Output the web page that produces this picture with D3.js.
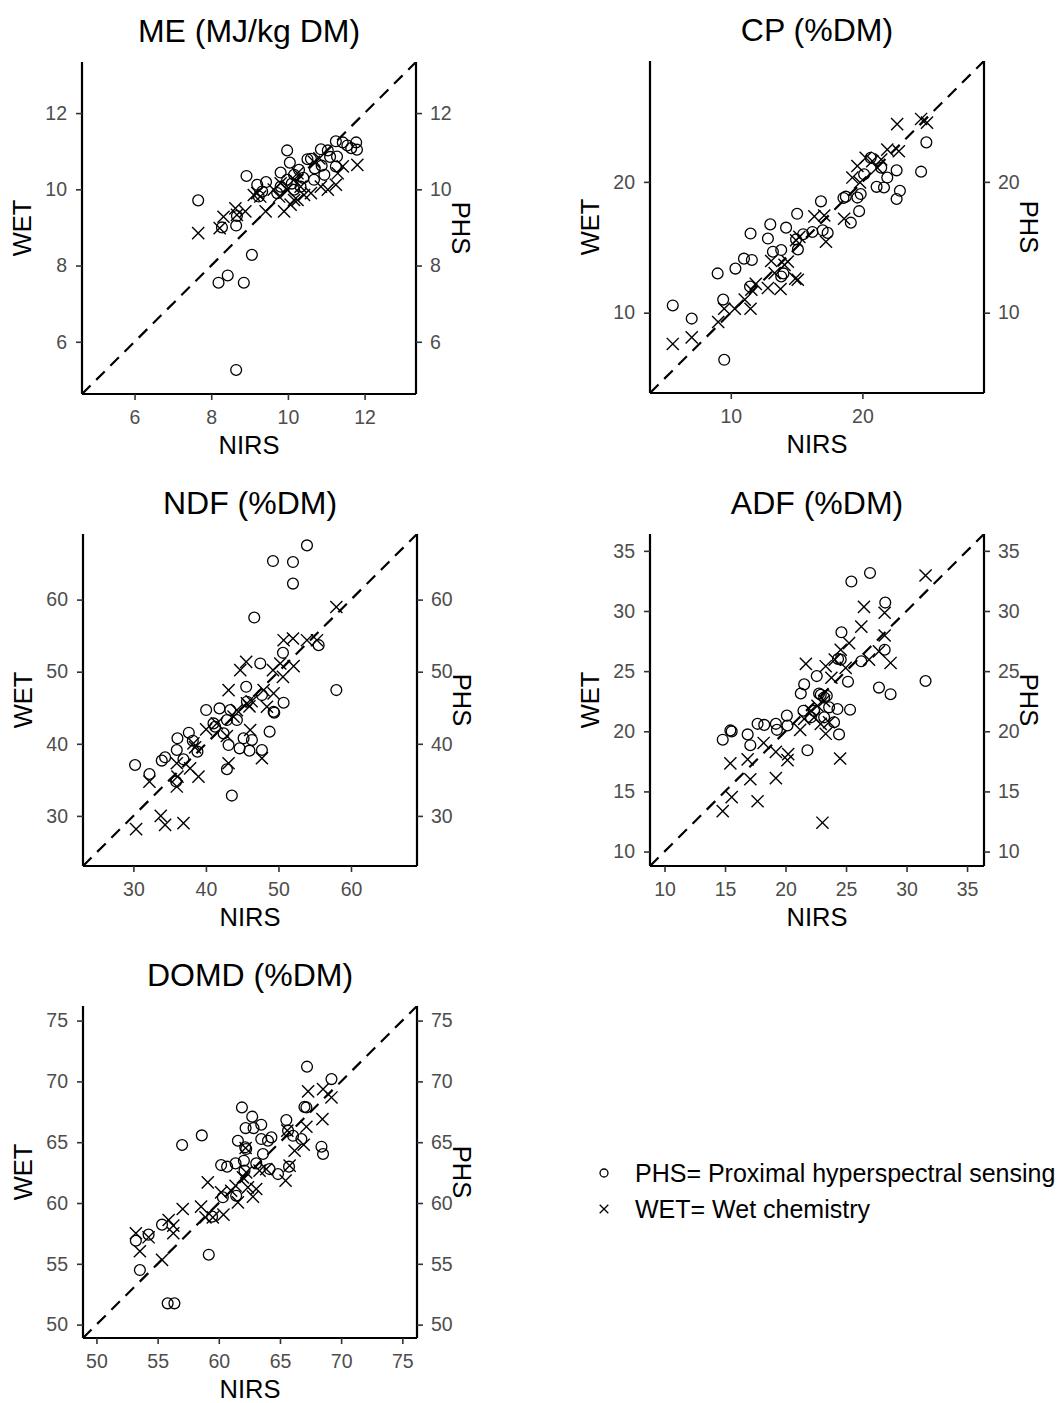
<!DOCTYPE html>
<html>
<head>
<meta charset="utf-8">
<script src="https://cdn.jsdelivr.net/npm/d3@7"></script>
<style>
  body { margin: 0; background: #fff; }
  svg { display: block; font-family: 'Liberation Sans', Arial, sans-serif; }
</style>
</head>
<body>
<div id="chart"></div>
<script>
// values: [NIRS, PHS] and [NIRS, WET]
var mePHS = [[7.66,9.71],[8.92,10.35],[9.98,11.02],[10.05,10.70],[8.67,9.30],[8.65,9.05],[8.28,9.00],[9.06,8.28],[8.43,7.74],[8.19,7.55],[8.85,7.55],[8.65,5.26],[9.20,10.12],[9.43,10.19],[9.81,10.44],[9.33,9.94],[10.51,10.79],[10.60,10.80],[10.86,11.05],[11.04,11.02],[11.25,11.26],[11.43,11.23],[11.78,11.23],[11.80,11.04],[11.65,11.08],[11.28,10.86],[10.88,10.62],[11.25,10.60],[10.95,10.38],[10.29,10.51],[10.16,10.38],[9.98,10.25],[9.81,10.07],[9.72,9.90],[10.16,9.99],[10.33,10.07],[9.24,9.81],[10.68,10.25],[10.40,10.30],[10.10,10.15],[11.10,10.85],[11.55,11.15],[10.70,10.55]]
var meWET = [[7.66,8.85],[8.22,8.98],[8.32,9.28],[8.63,9.50],[8.89,9.42],[9.11,9.85],[9.28,9.81],[9.42,9.42],[9.77,9.81],[9.90,9.42],[10.07,9.60],[10.25,9.72],[10.42,9.85],[10.60,9.90],[10.33,10.07],[10.16,10.25],[9.98,9.99],[10.86,10.07],[11.04,9.99],[11.25,10.12],[11.30,10.42],[11.43,10.60],[11.81,10.64],[10.82,10.81],[10.25,10.42],[9.81,10.16],[9.63,9.99],[10.68,10.72],[9.20,9.90],[8.67,9.33],[10.16,9.72]]

var cpPHS = [[5.59,10.55],[7.03,9.55],[9.50,6.40],[9.42,11.00],[9.00,13.00],[10.35,13.37],[11.00,14.13],[11.60,14.03],[11.50,16.05],[12.82,15.67],[13.00,16.75],[14.20,16.50],[15.04,17.56],[16.85,18.51],[13.20,14.66],[13.83,14.79],[14.96,15.60],[15.50,16.00],[15.10,14.84],[16.20,16.17],[16.98,16.30],[17.36,16.10],[11.46,12.00],[14.00,13.00],[13.83,12.77],[18.74,18.87],[19.12,16.88],[19.75,17.76],[19.62,18.80],[19.87,19.07],[20.13,20.58],[20.63,21.84],[21.08,19.62],[21.64,19.57],[21.89,20.33],[22.60,20.88],[22.85,19.32],[22.60,18.69],[24.46,20.78],[24.86,23.02],[18.56,18.77],[21.43,21.08]]
var cpWET = [[5.59,7.61],[7.03,8.11],[9.04,9.29],[9.50,10.30],[10.30,10.30],[11.06,11.00],[11.50,10.30],[11.56,11.76],[12.82,11.89],[13.78,11.81],[13.07,13.95],[13.33,13.02],[14.08,13.65],[14.33,13.90],[15.09,12.52],[14.96,15.54],[15.21,15.80],[16.35,17.36],[17.10,17.43],[17.23,15.42],[18.61,17.18],[19.24,20.33],[19.62,21.21],[19.82,19.95],[20.25,21.84],[20.75,21.59],[21.13,21.08],[21.89,22.47],[22.77,22.34],[22.64,24.41],[24.46,24.81],[24.91,24.53],[21.43,21.71],[11.90,12.20],[14.90,12.60]]

var ndfPHS = [[53.93,67.52],[49.24,65.35],[52.00,65.21],[52.00,62.22],[46.66,57.51],[50.62,52.62],[55.54,53.68],[47.49,51.14],[57.98,47.45],[50.71,45.70],[49.42,44.31],[48.78,41.68],[47.72,39.14],[46.34,40.53],[45.19,40.76],[44.64,39.37],[46.00,39.05],[43.57,32.82],[42.89,36.47],[45.55,47.91],[47.72,46.76],[40.03,44.68],[41.87,44.91],[43.35,44.68],[41.04,42.83],[42.89,43.30],[44.27,43.30],[41.27,42.37],[42.43,41.45],[43.12,39.83],[37.64,41.54],[36.07,40.76],[38.19,40.43],[38.83,38.91],[35.98,39.14],[34.37,38.13],[33.91,37.67],[36.90,37.85],[30.23,37.06],[32.21,35.81],[35.89,34.76],[45.65,45.84],[49.33,44.45]]
var ndfWET = [[30.37,28.16],[33.77,30.00],[34.37,28.76],[36.90,28.99],[32.21,34.76],[35.98,34.07],[36.07,35.45],[35.98,37.30],[37.82,36.60],[38.97,35.45],[38.28,40.06],[40.03,42.00],[41.50,42.83],[43.12,37.30],[42.89,41.08],[43.81,43.76],[44.27,44.68],[43.12,47.45],[44.73,50.22],[45.55,51.37],[45.65,45.60],[46.10,41.91],[47.95,47.45],[49.33,46.99],[48.41,45.14],[47.72,37.99],[49.24,50.22],[50.62,49.29],[50.25,51.14],[50.71,54.37],[52.09,50.77],[52.00,54.60],[53.93,54.37],[55.31,54.37],[57.98,58.98],[46.00,45.20],[46.30,45.90],[38.50,39.50]]

var adfPHS = [[14.81,19.30],[15.44,20.07],[15.55,19.99],[16.87,19.74],[17.09,18.84],[17.69,20.62],[18.24,20.53],[19.20,20.62],[19.29,20.12],[20.16,20.48],[20.11,21.30],[21.81,18.42],[21.54,23.90],[21.26,23.14],[21.48,21.71],[22.58,24.59],[22.91,23.03],[24.62,28.23],[24.56,25.96],[25.16,24.12],[25.44,32.45],[26.98,33.16],[26.26,25.82],[28.24,30.70],[28.19,26.78],[27.72,23.63],[28.68,23.08],[31.57,24.18],[25.33,21.79],[24.42,19.74],[24.01,20.75],[24.29,21.85],[23.60,21.99],[23.19,22.81],[22.77,23.14],[22.36,21.71],[22.09,21.16],[23.19,21.16],[23.41,22.95],[24.34,26.01]]
var adfWET = [[14.81,13.36],[15.55,14.53],[15.44,17.33],[17.69,14.18],[17.09,16.01],[16.87,17.66],[18.19,19.03],[19.20,16.10],[19.20,18.29],[20.16,17.60],[20.22,18.10],[21.21,20.12],[21.54,21.03],[21.68,25.60],[22.09,21.71],[22.64,22.12],[23.19,22.53],[23.05,12.40],[23.32,19.79],[23.32,25.41],[24.51,17.74],[24.07,25.96],[23.79,24.45],[24.56,26.78],[25.25,27.33],[24.97,25.27],[26.26,28.70],[26.48,30.34],[26.90,25.96],[27.72,26.64],[28.19,29.85],[28.19,27.96],[28.68,25.68],[31.57,32.95],[22.91,20.62],[23.60,20.75],[22.36,21.16]]

var domdPHS = [[67.21,71.21],[69.21,70.19],[67.16,67.86],[61.89,67.86],[62.73,67.10],[63.47,66.44],[62.19,66.16],[62.84,66.16],[58.61,65.56],[57.00,64.77],[61.56,65.12],[62.16,64.58],[62.24,64.44],[63.47,65.26],[64.02,65.12],[64.30,65.40],[65.52,66.82],[65.66,65.95],[66.07,65.53],[66.75,65.26],[68.39,64.63],[68.52,64.03],[63.61,64.03],[60.19,63.12],[60.68,62.99],[61.37,63.26],[62.05,63.48],[63.06,63.26],[64.15,62.79],[64.84,62.38],[65.74,62.99],[62.10,62.66],[60.33,60.47],[61.42,60.60],[59.45,58.88],[59.18,55.75],[55.36,58.22],[54.26,57.40],[53.22,56.90],[53.55,54.49],[55.82,51.75],[56.37,51.75],[67.00,67.90]]
var domdWET = [[53.22,57.51],[54.26,57.18],[53.55,56.03],[55.36,55.32],[55.90,58.60],[56.28,58.14],[56.28,57.51],[57.05,59.51],[58.55,59.70],[58.91,58.82],[59.51,58.82],[60.38,59.04],[59.10,61.70],[60.19,60.88],[61.01,61.01],[61.56,60.05],[61.37,61.42],[61.97,62.11],[62.24,62.52],[62.38,61.29],[62.79,60.52],[63.06,61.15],[62.19,64.52],[63.33,62.66],[63.88,62.79],[65.46,61.84],[65.79,63.07],[66.20,64.30],[66.94,64.79],[67.16,66.27],[67.30,69.18],[68.47,66.90],[68.52,69.37],[69.21,68.68],[65.60,65.95]]

var titles = ['ME (MJ/kg DM)', 'CP (%DM)', 'NDF (%DM)', 'ADF (%DM)', 'DOMD (%DM)']
var domains = [[4.63, 13.34], [3.86, 29.24], [23.05, 69.1], [8.8, 36.4], [48.9, 76.2]]
var tickValues = [[6, 8, 10, 12], [10, 20], [30, 40, 50, 60], [10, 15, 20, 25, 30, 35], [50, 55, 60, 65, 70, 75]]
var legendLabels = ['PHS= Proximal hyperspectral sensing', 'WET= Wet chemistry']

var phsData = [mePHS, cpPHS, ndfPHS, adfPHS, domdPHS]
var wetData = [meWET, cpWET, ndfWET, adfWET, domdWET]

var W = 1060, H = 1403
var pw = 334, ph = 332
var origins = [[82, 62], [650, 61], [83, 534], [650, 534], [83, 1006]]

var svg = d3.select('#chart').append('svg').attr('width', W).attr('height', H)

var circleSym = d3.symbol().type(d3.symbolCircle).size(92)
var crossSym = d3.symbol().type(d3.symbolTimes).size(98)

titles.forEach(function(title, i){
    var g = svg.append('g').attr('transform', 'translate(' + origins[i][0] + ',' + origins[i][1] + ')')
    var x = d3.scaleLinear().domain(domains[i]).range([0, pw])
    var y = d3.scaleLinear().domain(domains[i]).range([ph, 0])

    g.append('clipPath').attr('id', 'clip' + i)
        .append('rect').attr('width', pw).attr('height', ph)

    var plot = g.append('g').attr('clip-path', 'url(#clip' + i + ')')

    plot.append('line')
        .attr('x1', x(domains[i][0])).attr('y1', y(domains[i][0]))
        .attr('x2', x(domains[i][1])).attr('y2', y(domains[i][1]))
        .attr('stroke', '#000').attr('stroke-width', 2.2)
        .attr('stroke-dasharray', '12,8')

    plot.selectAll('.phs').data(phsData[i]).enter().append('path')
        .attr('class', 'phs')
        .attr('d', circleSym)
        .attr('transform', function(d){ return 'translate(' + x(d[0]) + ',' + y(d[1]) + ')' })
        .attr('fill', 'none').attr('stroke', '#000').attr('stroke-width', 1.3)

    plot.selectAll('.wet').data(wetData[i]).enter().append('path')
        .attr('class', 'wet')
        .attr('d', crossSym)
        .attr('transform', function(d){ return 'translate(' + x(d[0]) + ',' + y(d[1]) + ')' })
        .attr('fill', 'none').attr('stroke', '#000').attr('stroke-width', 1.4)

    var xAxis = d3.axisBottom(x).tickValues(tickValues[i]).tickSize(6).tickPadding(10)
    var yAxis = d3.axisLeft(y).tickValues(tickValues[i]).tickSize(6).tickPadding(9)
    var yAxisR = d3.axisRight(y).tickValues(tickValues[i]).tickSize(6).tickPadding(8)

    var axes = [
        g.append('g').attr('transform', 'translate(0,' + ph + ')').call(xAxis),
        g.append('g').call(yAxis),
        g.append('g').attr('transform', 'translate(' + pw + ',0)').call(yAxisR)
    ]
    axes.forEach(function(a){
        a.select('.domain').attr('stroke', '#000').attr('stroke-width', 2.2)
        a.selectAll('.tick line').attr('stroke', '#333').attr('stroke-width', 1.6)
        a.selectAll('.tick text').attr('fill', '#4d4d4d').style('font-size', '19.5px')
            .style('font-family', "'Liberation Sans', Arial, sans-serif")
    })
    // plain axis lines, no end ticks
    axes[0].select('.domain').attr('d', 'M0,0H' + pw)
    axes[1].select('.domain').attr('d', 'M0,0V' + ph)
    axes[2].select('.domain').attr('d', 'M0,0V' + ph)

    g.append('text').attr('x', pw / 2).attr('y', -20)
        .attr('text-anchor', 'middle').style('font-size', '32px').attr('fill', '#000')
        .text(title)

    g.append('text').attr('x', pw / 2).attr('y', ph + 60)
        .attr('text-anchor', 'middle').style('font-size', '25.5px').attr('fill', '#000')
        .text('NIRS')

    g.append('text').attr('transform', 'translate(-51,' + (ph / 2) + ') rotate(-90)')
        .attr('text-anchor', 'middle').style('font-size', '25.5px').attr('fill', '#000')
        .text('WET')

    g.append('text').attr('transform', 'translate(' + (pw + 36) + ',' + (ph / 2) + ') rotate(90)')
        .attr('text-anchor', 'middle').style('font-size', '25.5px').attr('fill', '#000')
        .text('PHS')
})

var legend = svg.append('g').attr('transform', 'translate(604,1173)')
var legendSyms = [d3.symbol().type(d3.symbolCircle).size(50), d3.symbol().type(d3.symbolTimes).size(50)]
legendLabels.forEach(function(lab, i){
    var row = legend.append('g').attr('transform', 'translate(0,' + (i * 36) + ')')
    row.append('path').attr('d', legendSyms[i])
        .attr('fill', 'none').attr('stroke', '#000').attr('stroke-width', 1.3)
    row.append('text').attr('x', 31).attr('y', 9)
        .style('font-size', '25px').attr('fill', '#000')
        .text(lab)
})
</script>
</body>
</html>
